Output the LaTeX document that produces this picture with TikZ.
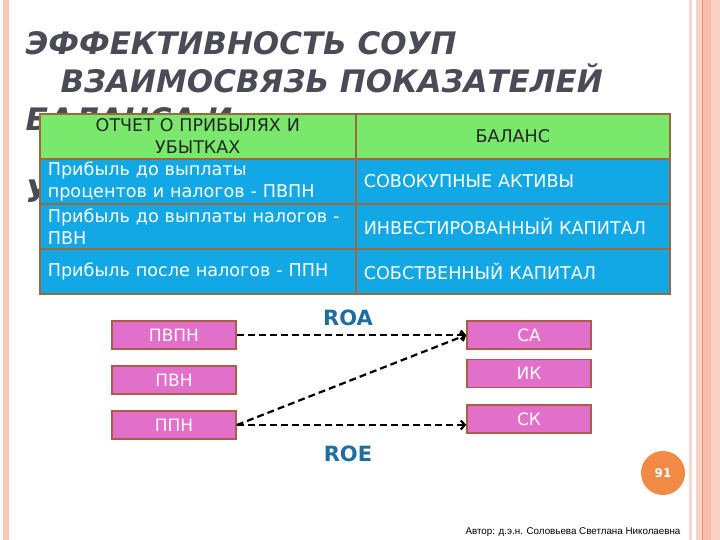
\documentclass[tikz,border=0pt]{standalone}
\usepackage{fontspec}
\setmainfont{DejaVu Sans}
\newfontfamily\authorfont{Liberation Sans}
\usetikzlibrary{arrows.meta}

\definecolor{titlegray}{RGB}{75,75,87}
\definecolor{headgreen}{RGB}{122,232,108}
\definecolor{rowblue}{RGB}{18,168,230}
\definecolor{cellbrown}{RGB}{156,104,60}
\definecolor{boxpink}{RGB}{226,112,202}
\definecolor{boxbrown}{RGB}{172,92,72}
\definecolor{ratioblue}{RGB}{31,110,160}
\definecolor{pageorange}{RGB}{240,138,68}
\definecolor{stripa}{RGB}{248,200,184}
\definecolor{stripb}{RGB}{249,210,196}
\definecolor{stripc}{RGB}{232,150,116}
\definecolor{stripd}{RGB}{246,190,168}

\begin{document}
\begin{tikzpicture}[x=1pt,y=-1pt,
    cell/.style={draw=cellbrown,line width=1.6pt,anchor=north west,
        minimum height=45pt,inner ysep=0pt,inner xsep=8pt},
    leftcell/.style={cell,text width=300pt,align=left},
    rightcell/.style={cell,text width=298pt,align=left},
    rowtext/.style={text=white,font=\fontsize{17.6}{22}\selectfont},
    headtext/.style={text=black!85,font=\fontsize{17.5}{22}\selectfont},
    pinkbox/.style={draw=boxbrown,fill=boxpink,line width=1.5pt,
        minimum width=124pt,minimum height=28pt,inner sep=0pt,
        text=white,font=\fontsize{17}{17}\selectfont},
    ratio/.style={text=ratioblue,font=\bfseries\fontsize{21}{21}\selectfont},
    dasharrow/.style={line width=2.2pt,dash pattern=on 7pt off 4pt,
        -{Straight Barb[length=4pt,width=9pt]}},
    title/.style={anchor=base west,text=titlegray,
        font=\bfseries\itshape\fontsize{31}{31}\selectfont}]
    \useasboundingbox (0,0) rectangle (720,540);
    % Draw slide border strips
    \fill[stripa] (3,0) rectangle (9,540);
    \fill[stripa!70] (689,0) rectangle (692,540);
    \fill[stripb] (696,0) rectangle (702,540);
    \fill[stripc] (702,0) rectangle (703,540);
    \fill[stripd] (703,0) rectangle (711,540);
    \fill[stripb] (711,0) rectangle (720,540);
    % Draw title
    \node[title] (title1) at (22,55) {ЭФФЕКТИВНОСТЬ СОУП};
    \node[title] (title2) at (57,93) {ВЗАИМОСВЯЗЬ ПОКАЗАТЕЛЕЙ};
    \node[title] (title3) at (22,131) {БАЛАНСА И};
    \node[title] (title4) at (22,203) {У};
    % Draw table
    \node[leftcell,fill=headgreen,headtext,align=center] (head_pl) at (39,113)
        {ОТЧЕТ О ПРИБЫЛЯХ И\\УБЫТКАХ};
    \node[rightcell,fill=headgreen,headtext,align=center] (head_bal) at (355,113)
        {БАЛАНС};
    \node[leftcell,fill=rowblue,rowtext] (row_pvpn) at (39,158)
        {Прибыль до выплаты\\процентов и налогов - ПВПН};
    \node[rightcell,fill=rowblue,rowtext] (row_ca) at (355,158)
        {СОВОКУПНЫЕ АКТИВЫ};
    \node[leftcell,fill=rowblue,rowtext] (row_pvn) at (39,203)
        {Прибыль до выплаты налогов -\\ПВН};
    \node[rightcell,fill=rowblue,rowtext] (row_ik) at (355,203)
        {ИНВЕСТИРОВАННЫЙ КАПИТАЛ};
    \node[leftcell,fill=rowblue,rowtext] (row_ppn) at (39,248)
        {Прибыль после налогов - ППН};
    \node[rightcell,fill=rowblue,rowtext] (row_ck) at (355,248)
        {СОБСТВЕННЫЙ КАПИТАЛ};
    % Draw indicator boxes
    \node[pinkbox] (pvpn) at (174,335) {ПВПН};
    \node[pinkbox] (pvn) at (174,380) {ПВН};
    \node[pinkbox] (ppn) at (174,425) {ППН};
    \node[pinkbox] (ca) at (529,335) {СА};
    \node[pinkbox] (ik) at (529,373.5) {ИК};
    \node[pinkbox] (ck) at (529,419) {СК};
    % Draw ratio arrows
    \draw[dasharrow] (pvpn.east) -- (ca.west);
    \draw[dasharrow] (ppn.east) -- (ca.west);
    \draw[dasharrow] (ppn.east) -- (ppn.east -| ck.west);
    \node[ratio] (roa) at (348,318) {ROA};
    \node[ratio] (roe) at (348,454) {ROE};
    % page number and author
    \node[circle,fill=pageorange,minimum size=44pt,text=white,
        font=\bfseries\fontsize{12}{12}\selectfont] (pagenum) at (663,473) {91};
    \node[anchor=base east,font=\authorfont\fontsize{9.8}{9.8}\selectfont]
        (author) at (684,534) {Автор: д.э.н. Соловьева Светлана Николаевна};
\end{tikzpicture}
\end{document}
